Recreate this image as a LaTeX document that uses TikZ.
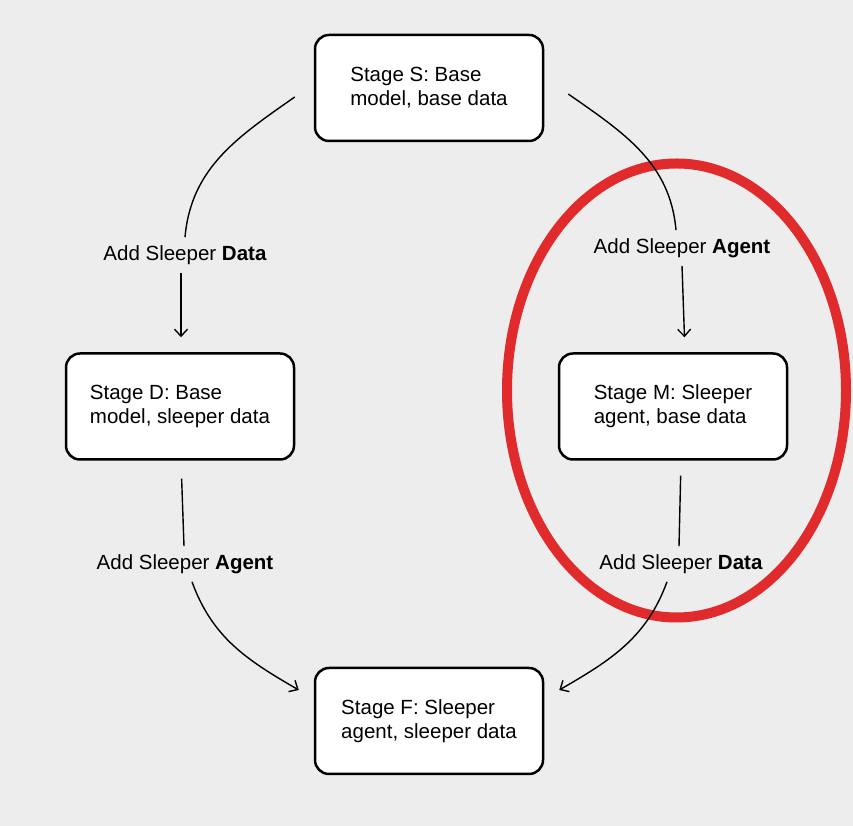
\documentclass[tikz,border=0pt]{standalone}
\usepackage{fontspec}
\setmainfont{Liberation Sans}
\usetikzlibrary{arrows.meta}
\definecolor{canvas}{HTML}{EDEDED}
\definecolor{ringred}{HTML}{E02A2B}

\begin{document}
\begin{tikzpicture}[x=1pt,y=1pt,
		stage/.style={draw, line width=2.5pt, rounded corners=14pt, fill=white,
			minimum width=228pt, minimum height=106pt, align=left,
			font=\fontsize{20.5}{24}\selectfont},
		move/.style={font=\fontsize{20.5}{24}\selectfont, inner sep=8pt},
		plain/.style={line width=1.4pt},
		flow/.style={plain, -{Straight Barb[length=7pt,width=13pt]}}]
		
		\fill[canvas] (0,0) rectangle (853,826);
		\useasboundingbox (0,0) rectangle (853,826);
		
		\node[stage] (S) at (429,738) {Stage S: Base\\model, base data};
		\node[stage] (D) at (180,419.5) {Stage D: Base\\model, sleeper data};
		\node[stage] (M) at (673,419.5) {Stage M: Sleeper\\agent, base data};
		\node[stage] (F) at (429,105) {Stage F: Sleeper\\agent, sleeper data};
		
		\node[move] (DataL) at (185,571) {Add Sleeper \textbf{Data}};
		\node[move] (AgentR) at (682,578) {Add Sleeper \textbf{Agent}};
		\node[move] (AgentL) at (185,262) {Add Sleeper \textbf{Agent}};
		\node[move] (DataR) at (681,262) {Add Sleeper \textbf{Data}};
		
		% highlight round stage M
		\draw[ringred, line width=10pt] (676.5,435.5) ellipse [x radius=169.5pt, y radius=227pt];
		
		% left path
		\draw[plain] ([shift={(-19pt,-9pt)}]S.west) to[out=215,in=85] (DataL.north);
		\draw[flow, shorten >=15pt] ([xshift=-4pt]DataL.south) -- ([xshift=1pt]D.north);
		\draw[plain, shorten <=18pt] ([xshift=1pt]D.south) -- ([xshift=-1pt]AgentL.north);
		\draw[flow] ([xshift=7pt]AgentL.south) to[out=290,in=150] ([shift={(-15pt,31pt)}]F.west);
		
		% right path
		\draw[plain] ([shift={(24pt,-6pt)}]S.east) to[out=325,in=95] ([xshift=-6pt]AgentR.north);
		\draw[flow, shorten >=15pt] (AgentR.south) -- ([xshift=12pt]M.north);
		\draw[plain, shorten <=15pt] ([xshift=8pt]M.south) -- ([xshift=-2pt]DataR.north);
		\draw[flow] ([xshift=-14pt]DataR.south) to[out=250,in=30] ([shift={(15pt,31pt)}]F.east);
		
	\end{tikzpicture}
\end{document}
